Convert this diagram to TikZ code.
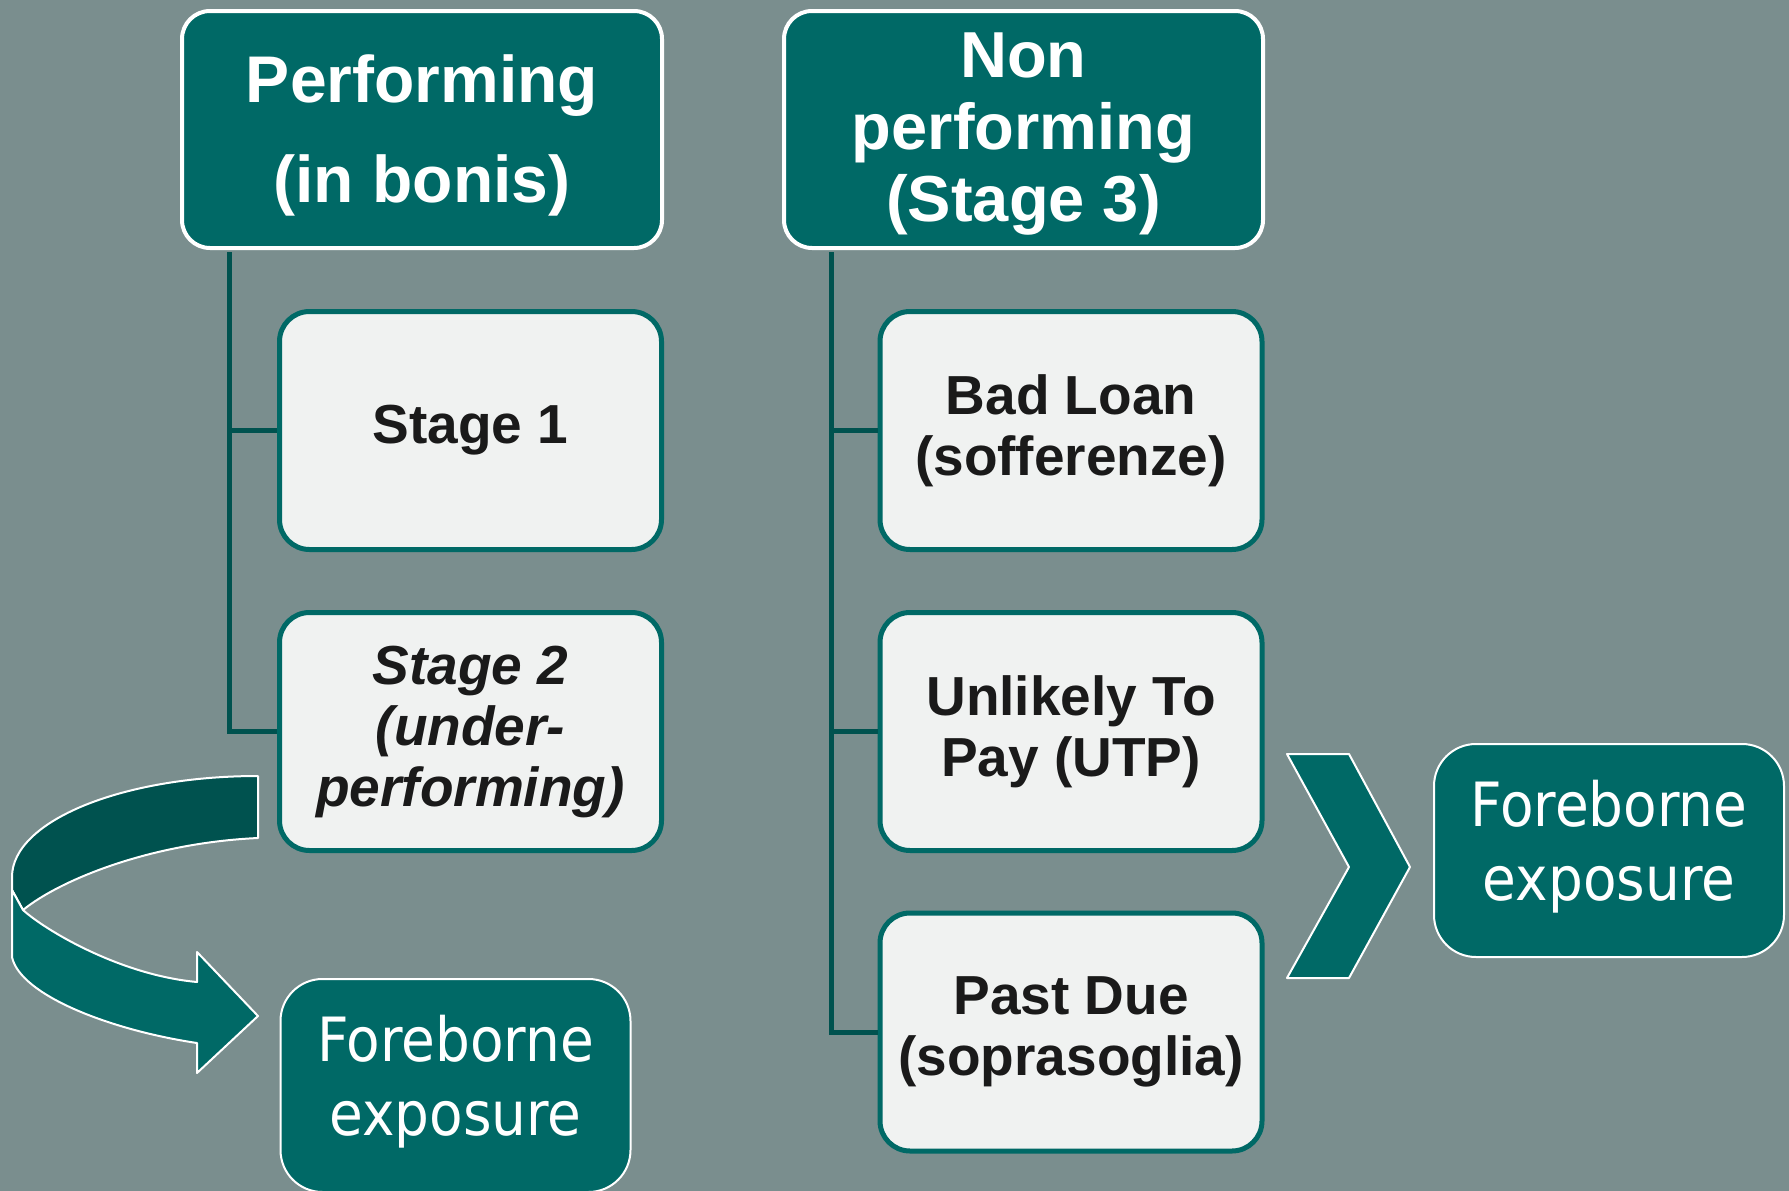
\documentclass[tikz,border=0pt]{standalone}
\usepackage{fontspec}
\setmainfont{Liberation Sans}
\newfontfamily\forefont[FakeStretch=0.90]{DejaVu Sans}
\definecolor{bgcol}{HTML}{7A8E8E}
\definecolor{mainteal}{HTML}{006966}
\definecolor{darkteal}{HTML}{00524F}
\definecolor{lightfill}{HTML}{F0F2F1}
\definecolor{ink}{HTML}{1A1A1A}
\tikzset{
  hdr/.style={draw=white, line width=4pt, fill=mainteal, rounded corners=28pt,
    minimum width=480pt, minimum height=237pt, inner sep=0pt},
  hdrtxt/.style={text=white, align=center, inner sep=0pt},
  stagebox/.style={draw=mainteal, line width=5pt, fill=lightfill, rounded corners=30pt,
    minimum width=382pt, minimum height=238pt, text=ink, align=center, inner sep=0pt,
    font=\bfseries\fontsize{55}{61}\selectfont},
  forebox/.style={draw=white, line width=2pt, fill=mainteal, rounded corners=42pt,
    minimum width=350pt, minimum height=213pt, inner sep=0pt},
  foretxt/.style={text=white, align=center, inner sep=0pt,
    font=\forefont\fontsize{61}{74}\selectfont},
  conn/.style={draw=darkteal, line width=5pt},
  ribbon/.style={draw=white, line width=2pt, line join=round}
}
\begin{document}
\begin{tikzpicture}[x=1pt, y=-1pt]
\fill[bgcol] (0,0) rectangle (1789,1191);
\useasboundingbox (0,0) rectangle (1789,1191);

% curved 3D arrow
\draw[ribbon, fill=darkteal] (258,776) .. controls (122,776) and (12,821) .. (12,877)
  -- (12,890) -- (23,910) .. controls (60,880) and (150,843) .. (258,838) -- cycle;
\draw[ribbon, fill=mainteal] (12,890) -- (23,910) .. controls (45,930) and (120,975) .. (197,982)
  -- (197,952) -- (258,1016) -- (197,1073) -- (197,1043)
  .. controls (110,1030) and (20,995) .. (12,957) -- cycle;

% chevron
\draw[ribbon, fill=mainteal] (1287,754) -- (1349,754) -- (1410,867) -- (1349,978)
  -- (1287,978) -- (1349,867) -- cycle;

% header boxes
\node[hdr] (perf) at (422,129.5) {};
\node[hdrtxt, font=\bfseries\fontsize{66}{100}\selectfont] (perftxt) at (422,135) {Performing\\(in bonis)};
\node[hdr, minimum width=479pt] (nonperf) at (1023.5,129.5) {};
\node[hdrtxt, font=\bfseries\fontsize{65}{72}\selectfont] (nonperftxt) at (1023.5,134.5) {Non\\performing\\(Stage 3)};

% stage boxes
\node[stagebox] (s1) at (470.5,430.5) {Stage 1};
\node[stagebox, font=\bfseries\itshape\fontsize{55}{61}\selectfont] (s2) at (470.5,731.5) {Stage 2\\(under-\\performing)};
\node[stagebox] (bad) at (1071,430.5) {Bad Loan\\(sofferenze)};
\node[stagebox] (utp) at (1071,731.5) {Unlikely To\\Pay (UTP)};
\node[stagebox] (past) at (1071,1032) {Past Due\\(soprasoglia)};

% foreborne boxes
\node[forebox] (foreL) at (455.5,1085.5) {};
\node[foretxt] (foreLtxt) at (455.5,1082) {Foreborne\\exposure};
\node[forebox] (foreR) at (1609,850.5) {};
\node[foretxt] (foreRtxt) at (1609,847) {Foreborne\\exposure};

% connectors
\draw[conn] ([xshift=49pt,yshift=-2pt]perf.south west) |- (s1.west);
\draw[conn] ([xshift=49pt,yshift=-2pt]perf.south west) |- (s2.west);
\draw[conn] ([xshift=49pt,yshift=-2pt]nonperf.south west) |- (bad.west);
\draw[conn] ([xshift=49pt,yshift=-2pt]nonperf.south west) |- (utp.west);
\draw[conn] ([xshift=49pt,yshift=-2pt]nonperf.south west) |- (past.west);
\end{tikzpicture}
\end{document}
